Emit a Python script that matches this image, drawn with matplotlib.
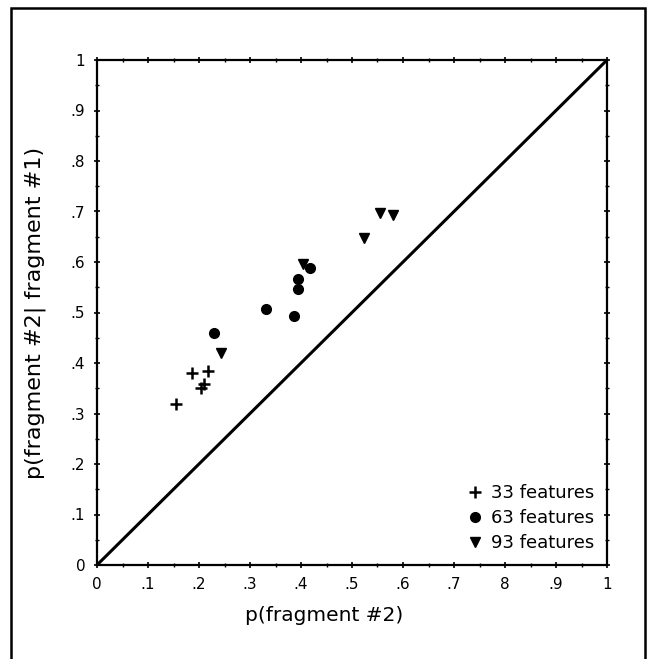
import matplotlib

matplotlib.use("Agg")
import matplotlib.pyplot as plt
from matplotlib.patches import Rectangle
import numpy as np

# values
plus_x = [0.154, 0.186, 0.217, 0.210, 0.203]
plus_y = [0.319, 0.381, 0.384, 0.358, 0.351]

circle_x = [0.229, 0.331, 0.386, 0.394, 0.394, 0.418]
circle_y = [0.459, 0.507, 0.493, 0.546, 0.566, 0.588]

tri_x = [0.244, 0.403, 0.524, 0.555, 0.580]
tri_y = [0.419, 0.597, 0.647, 0.697, 0.693]

series_labels = ["33 features", "63 features", "93 features"]
x_ticklabels = ["0", ".1", ".2", ".3", ".4", ".5", ".6", ".7", "8", ".9", "1"]
y_ticklabels = ["0", ".1", ".2", ".3", ".4", ".5", ".6", ".7", ".8", ".9", "1"]

plt.rcParams["font.family"] = ["DejaVu Sans"]

fig = plt.figure(figsize=(6.48, 6.59), dpi=100)
ax = fig.add_axes([97 / 648, 1 - 565 / 659, 510 / 648, 505 / 659])

# identity line
ax.plot([0, 1], [0, 1], color="black", lw=2.2, solid_capstyle="butt")

ax.plot(plus_x, plus_y, ls="none", marker="+", ms=8, mew=1.8, color="black",
        label=series_labels[0])
ax.plot(circle_x, circle_y, ls="none", marker="o", ms=7, color="black",
        label=series_labels[1])
ax.plot(tri_x, tri_y, ls="none", marker="v", ms=7.5, color="black",
        label=series_labels[2])

ax.set_xlim(0, 1)
ax.set_ylim(0, 1)
ticks = np.linspace(0, 1, 11)
ax.set_xticks(ticks)
ax.set_yticks(ticks)
ax.set_xticklabels(x_ticklabels)
ax.set_yticklabels(y_ticklabels)
ax.set_xticks(np.linspace(0.05, 0.95, 10), minor=True)
ax.set_yticks(np.linspace(0.05, 0.95, 10), minor=True)
ax.tick_params(which="major", direction="inout", length=5, width=1.2,
               top=True, right=True, labelsize=11, pad=6, color="black")
ax.tick_params(which="minor", direction="inout", length=3, width=1.0,
               top=True, right=True)
for s in ax.spines.values():
    s.set_linewidth(1.6)

ax.set_xlabel("p(fragment #2)", fontsize=14.5)
ax.xaxis.set_label_coords(0.445, -0.082)
ax.set_ylabel("p(fragment #2| fragment #1)", fontsize=16)
ax.yaxis.set_label_coords(-0.1, 0.5)

ax.legend(loc="lower right", frameon=False, fontsize=13, handlelength=0.8,
          handletextpad=0.5, labelspacing=0.4, borderaxespad=0.3)

# scanned page frame (bottom edge runs off the image)
fig.add_artist(Rectangle((11 / 648, -0.05), 634 / 648, 1.05 - 8 / 659,
                         transform=fig.transFigure, fill=False, lw=1.8,
                         edgecolor="black", clip_on=False))

fig.savefig("out.png", dpi=100)
